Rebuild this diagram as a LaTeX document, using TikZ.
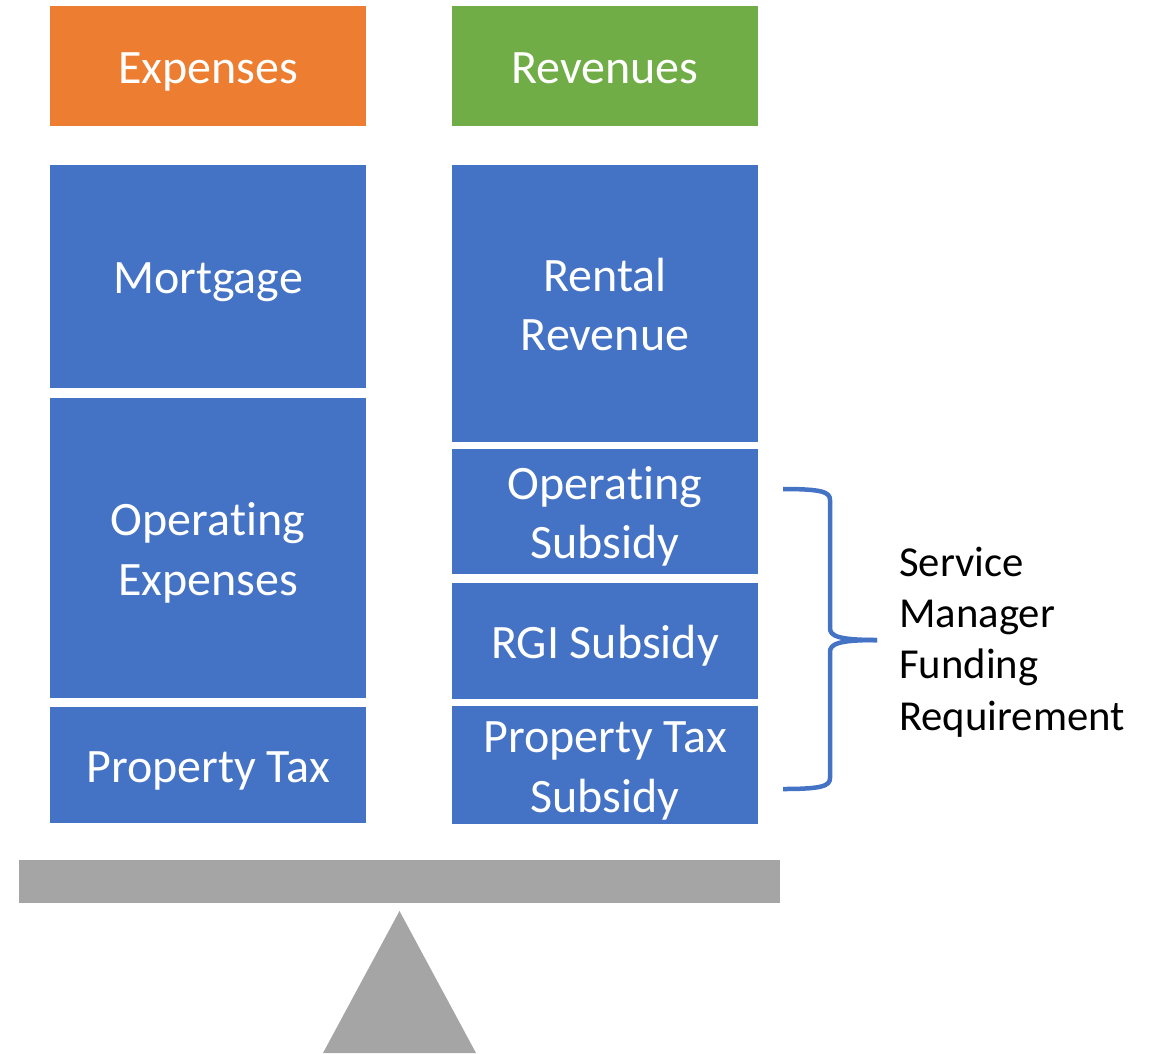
\documentclass[tikz,border=0pt]{standalone}
\usepackage{fontspec}
\setmainfont[Ligatures=NoCommon]{Carlito}
\definecolor{boxblue}{HTML}{4472C4}
\definecolor{boxorange}{HTML}{ED7D31}
\definecolor{boxgreen}{HTML}{70AD47}
\definecolor{scalegray}{HTML}{A5A5A5}
% invisible line struts, so every line box has the same height and depth
\newcommand\boxline{\vrule width 0pt height 0.97em depth 0.25em}
\newcommand\noteline{\vrule width 0pt height 0.75em depth 0.25em}
\begin{document}
\begin{tikzpicture}[x=1pt,y=-1pt,
  block/.style={fill=boxblue, draw=none, text=white, align=center, inner sep=0pt,
    font=\fontsize{48}{57.5}\selectfont},
  leftcol/.style={block, minimum width=316pt},
  rightcol/.style={block, minimum width=306pt},
  bracket/.style={draw=boxblue, line width=4.5pt, line join=round, line cap=butt},
  note/.style={font=\fontsize{42.7}{51.4}\selectfont, align=left, inner sep=0pt, text=black}]
\useasboundingbox (0,0) rectangle (1151,1053);

% expenses column
\node[leftcol, fill=boxorange, minimum height=120pt] (exp) at (208,66) {\boxline Expenses};
\node[leftcol, minimum height=223pt] (mort) at (208,276.5) {\boxline Mortgage};
\node[leftcol, minimum height=300pt] (opex) at (208,548) {\boxline Operating\\\boxline Expenses};
\node[leftcol, minimum height=116pt] (ptax) at (208,765) {\boxline Property Tax};

% revenues column
\node[rightcol, fill=boxgreen, minimum height=120pt] (rev) at (605,66) {\boxline Revenues};
\node[rightcol, minimum height=277pt] (rent) at (605,303.5) {\boxline Rental\\\boxline Revenue};
\node[rightcol, minimum height=125pt] (opsub) at (605,511.5) {\boxline Operating\\\boxline Subsidy};
\node[rightcol, minimum height=116pt] (rgi) at (605,641) {\boxline RGI Subsidy};
\node[rightcol, minimum height=116pt] (ptsub) at (605,765) {\boxline Property Tax\\\boxline Subsidy};

% balance beam and fulcrum
\fill[scalegray] (19,860) rectangle (780,903);
\fill[scalegray] (399.5,911) -- (476,1053) -- (323,1053) -- cycle;

% curly bracket grouping the subsidies
\draw[bracket] (783,489) .. controls (822,489) and (830,492) .. (830,500)
  -- (830,628) .. controls (830,636) and (838,640) .. (877,640);
\draw[bracket] (877,640) .. controls (838,640) and (830,644) .. (830,652)
  -- (830,778) .. controls (830,786) and (822,789) .. (783,789);

\node[note, anchor=west] (smfr) at (899,642.5)
  {\noteline Service\\\noteline Manager\\\noteline Funding\\\noteline Requirement};
\end{tikzpicture}
\end{document}
